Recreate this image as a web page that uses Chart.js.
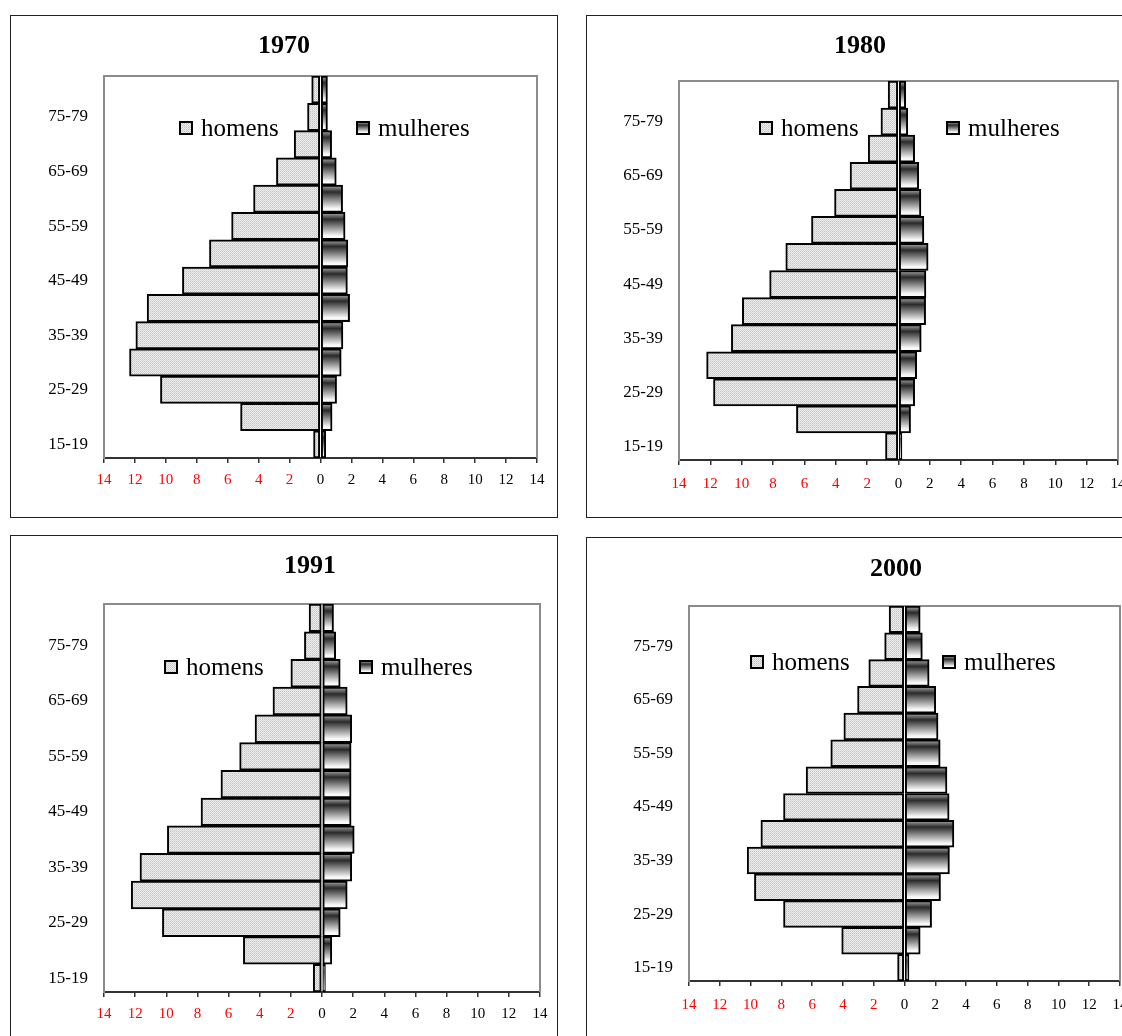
<!DOCTYPE html>
<html>
<head>
<meta charset="utf-8">
<script src="https://cdn.jsdelivr.net/npm/chart.js@4.4.0/dist/chart.umd.min.js"></script>
<style>
html, body { margin: 0; padding: 0; background: #fff; width: 1122px; height: 1036px; overflow: hidden; position: relative; }
.box { position: absolute; border: 1px solid #222; box-sizing: border-box; }
.title { position: absolute; width: 200px; margin-left: -100px; text-align: center; line-height: 30px; margin-top: -15px;
  font: bold 26px "Liberation Serif", "Times New Roman", serif; color: #000; }
canvas { position: absolute; }
</style>
</head>
<body>
<script>
// age groups, bottom to top
const ageGroups = ['15-19', '20-24', '25-29', '30-34', '35-39', '40-44', '45-49',
  '50-54', '55-59', '60-64', '65-69', '70-74', '75-79', '80-84'];
const years = ['1970', '1980', '1991', '2000'];
const seriesNames = ['homens', 'mulheres'];

// percent values
const homens1970   = [0.45, 5.17, 10.35, 12.35, 11.94, 11.21, 8.93, 7.18, 5.75, 4.33, 2.85, 1.70, 0.84, 0.57];
const mulheres1970 = [0.34, 0.75, 1.04, 1.34, 1.45, 1.88, 1.74, 1.77, 1.59, 1.43, 1.02, 0.72, 0.45, 0.45];
const homens1980   = [0.83, 6.51, 11.80, 12.24, 10.66, 9.96, 8.22, 7.19, 5.55, 4.08, 3.09, 1.93, 1.12, 0.66];
const mulheres1980 = [0.22, 0.77, 1.03, 1.16, 1.45, 1.73, 1.75, 1.89, 1.62, 1.43, 1.29, 1.03, 0.59, 0.46];
const homens1991   = [0.56, 5.05, 10.25, 12.25, 11.69, 9.93, 7.77, 6.49, 5.29, 4.30, 3.15, 2.00, 1.13, 0.83];
const mulheres1991 = [0.22, 0.63, 1.17, 1.62, 1.91, 2.07, 1.87, 1.87, 1.87, 1.91, 1.62, 1.17, 0.88, 0.74];
const homens2000   = [0.45, 4.08, 7.86, 9.75, 10.22, 9.33, 7.86, 6.39, 4.79, 3.94, 3.05, 2.32, 1.29, 1.00];
const mulheres2000 = [0.29, 1.02, 1.76, 2.34, 2.92, 3.21, 2.90, 2.76, 2.32, 2.18, 2.03, 1.60, 1.16, 1.02];

const xMin = -14, xMax = 14, xStep = 2;

const homensByYear = { '1970': homens1970, '1980': homens1980, '1991': homens1991, '2000': homens2000 };
const mulheresByYear = { '1970': mulheres1970, '1980': mulheres1980, '1991': mulheres1991, '2000': mulheres2000 };

// page layout of the four panels (box = outer frame, plot = chart area)
const panels = [
  { year: '1970', box: [10, 15, 548, 503],  plot: { l: 104, r: 537, t: 76,  b: 458 }, titleX: 284, titleY: 45,  tickPad: 8,  legend: [[76, 52], [253, 52]] },
  { year: '1980', box: [586, 15, 554, 503], plot: { l: 679, r: 1118, t: 81, b: 460 }, titleX: 860, titleY: 45,  tickPad: 10, legend: [[81, 47], [268, 47]] },
  { year: '1991', box: [10, 535, 548, 515], plot: { l: 104, r: 540, t: 604, b: 992 }, titleX: 310, titleY: 565, tickPad: 8,  legend: [[61, 63], [256, 63]] },
  { year: '2000', box: [586, 537, 554, 513], plot: { l: 689, r: 1120, t: 606, b: 981 }, titleX: 896, titleY: 568, tickPad: 10, legend: [[62, 56], [254, 56]] }
];

const SERIF = '"Liberation Serif", "Times New Roman", serif';

// light dotted fill for homens
function dotPattern() {
  const c = document.createElement('canvas');
  c.width = 2; c.height = 2;
  const g = c.getContext('2d');
  g.fillStyle = '#ededed'; g.fillRect(0, 0, 2, 2);
  g.fillStyle = '#c2c2c2'; g.fillRect(0, 0, 1, 1);
  g.fillStyle = '#d6d6d6'; g.fillRect(1, 1, 1, 1);
  return g.createPattern(c, 'repeat');
}
const dots = dotPattern();

// dark-to-white shading for mulheres
function shade(ctx, top, bottom) {
  const g = ctx.createLinearGradient(0, top, 0, bottom);
  g.addColorStop(0, '#b0b0b0');
  g.addColorStop(0.25, '#2a2a2a');
  g.addColorStop(0.85, '#f6f6f6');
  g.addColorStop(1, '#ffffff');
  return g;
}

function mulheresFill(c) {
  const ch = c.chart;
  if (!ch.chartArea || c.type !== 'data') return '#777';
  const ys = ch.scales.y;
  const p = ys.getPixelForValue(c.dataIndex);
  const h = Math.abs(ys.getPixelForValue(1) - ys.getPixelForValue(0));
  return shade(ch.ctx, p - h / 2, p + h / 2);
}

const plotFrame = {
  id: 'plotFrame',
  beforeDatasetsDraw(chart) {
    const { ctx, chartArea: a } = chart;
    ctx.save();
    ctx.strokeStyle = '#8c8c8c';
    ctx.lineWidth = 2;
    ctx.beginPath();
    ctx.moveTo(a.left, a.top);
    ctx.lineTo(a.right, a.top);
    ctx.lineTo(a.right, a.bottom);
    ctx.stroke();
    ctx.restore();
  }
};

const pyramidLegend = {
  id: 'pyramidLegend',
  afterDatasetsDraw(chart, args, opts) {
    const { ctx, chartArea } = chart;
    const s = 12;
    ctx.save();
    ctx.font = '25px ' + SERIF;
    ctx.textBaseline = 'middle';
    chart.data.datasets.forEach((ds, i) => {
      const x = chartArea.left + opts.spots[i][0];
      const y = chartArea.top + opts.spots[i][1];
      ctx.fillStyle = i === 0 ? dots : shade(ctx, y - s / 2, y + s / 2);
      ctx.fillRect(x, y - s / 2, s, s);
      ctx.lineWidth = 2;
      ctx.strokeStyle = '#000';
      ctx.strokeRect(x, y - s / 2, s, s);
      ctx.fillStyle = '#000';
      ctx.fillText(ds.label, x + s + 9, y + 1);
    });
    ctx.restore();
  }
};

panels.forEach(p => {
  const [bx, by, bw, bh] = p.box;

  const frame = document.createElement('div');
  frame.className = 'box';
  frame.style.left = bx + 'px'; frame.style.top = by + 'px';
  frame.style.width = bw + 'px'; frame.style.height = bh + 'px';
  document.body.appendChild(frame);

  const cv = document.createElement('canvas');
  cv.width = bw; cv.height = bh;
  cv.style.left = bx + 'px'; cv.style.top = by + 'px';
  cv.style.width = bw + 'px'; cv.style.height = bh + 'px';
  document.body.appendChild(cv);

  const title = document.createElement('div');
  title.className = 'title';
  title.textContent = p.year;
  title.style.left = p.titleX + 'px';
  title.style.top = p.titleY + 'px';
  document.body.appendChild(title);

  const padR = bx + bw - p.plot.r;
  const padT = p.plot.t - by;
  const yWidth = p.plot.l - bx;
  const xHeight = by + bh - p.plot.b;

  new Chart(cv, {
    type: 'bar',
    data: {
      labels: ageGroups,
      datasets: [
        { label: seriesNames[0], data: homensByYear[p.year].map(v => -v), backgroundColor: dots },
        { label: seriesNames[1], data: mulheresByYear[p.year], backgroundColor: mulheresFill }
      ]
    },
    options: {
      indexAxis: 'y',
      responsive: false,
      animation: false,
      devicePixelRatio: 1,
      layout: { padding: { left: 0, right: padR, top: padT, bottom: 0 } },
      datasets: {
        bar: {
          borderColor: '#000',
          borderWidth: 2,
          borderSkipped: false,
          barPercentage: 1,
          categoryPercentage: 1,
          stack: 'pop'
        }
      },
      scales: {
        x: {
          type: 'linear',
          stacked: true,
          min: xMin,
          max: xMax,
          afterFit(scale) { scale.height = xHeight; },
          ticks: {
            stepSize: xStep,
            padding: p.tickPad,
            font: { family: SERIF, size: 15 },
            color: c => (c.tick && c.tick.value < 0 ? '#ff0000' : '#000'),
            callback: v => Math.abs(v)
          },
          grid: { display: true, drawOnChartArea: false, drawTicks: true, tickLength: 5, color: '#333', lineWidth: 1.5 },
          border: { display: true, color: '#333', width: 2 }
        },
        y: {
          type: 'category',
          stacked: true,
          reverse: true,
          afterFit(scale) { scale.width = yWidth; },
          ticks: {
            autoSkip: false,
            padding: 8,
            font: { family: SERIF, size: 17 },
            color: '#000',
            callback: (v, i) => (i % 2 === 0 ? ageGroups[i] : '')
          },
          grid: { display: false },
          border: { display: true, color: '#8c8c8c', width: 2 }
        }
      },
      plugins: {
        legend: { display: false },
        tooltip: { enabled: false },
        title: { display: false },
        pyramidLegend: { spots: p.legend }
      }
    },
    plugins: [plotFrame, pyramidLegend]
  });
});
</script>
</body>
</html>
